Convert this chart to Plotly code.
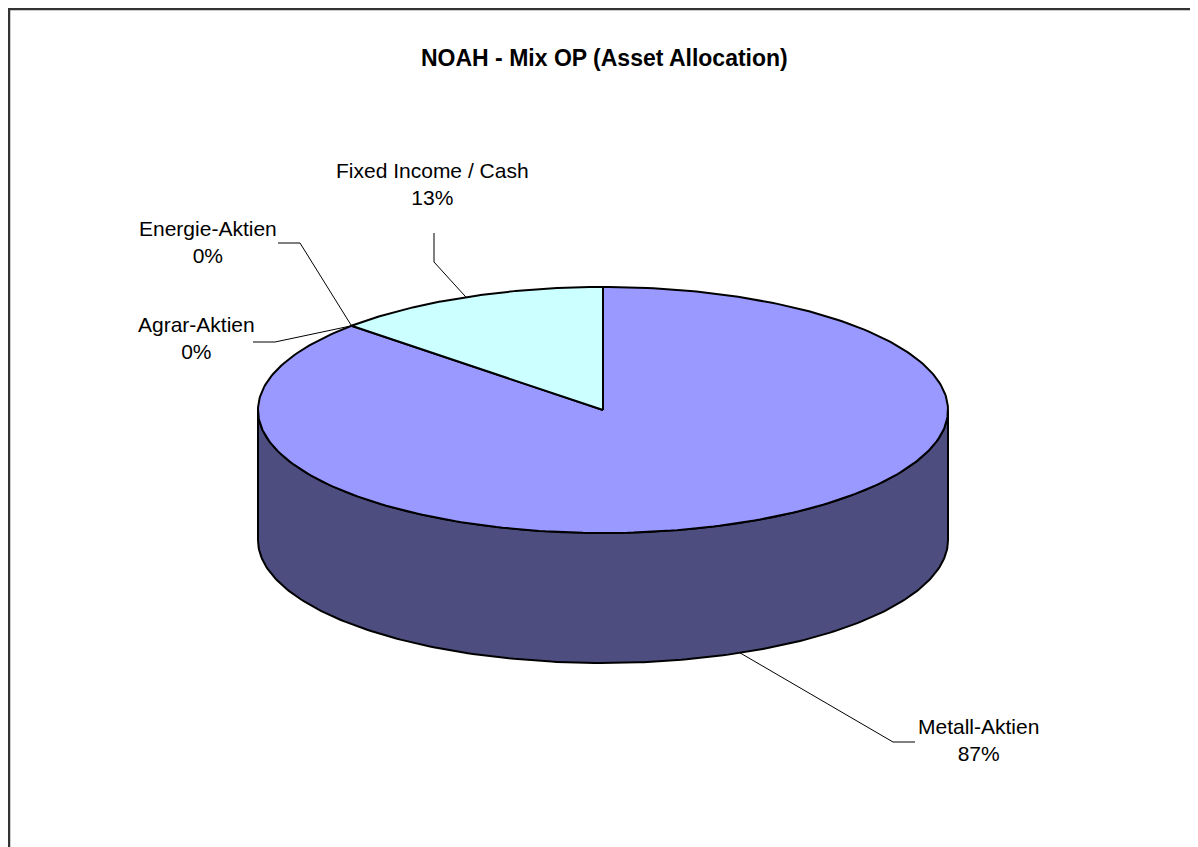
import numpy as np
import plotly.graph_objects as go

# ---- data ----
categories = ["Metall-Aktien", "Agrar-Aktien", "Energie-Aktien", "Fixed Income / Cash"]
values = [87, 0, 0, 13]
title = "NOAH - Mix OP (Asset Allocation)"

# ---- styles / geometry ----
W, H = 1198, 847
OFF = 8                  # page body margin
CX, CY = 603, 410       # centre of top ellipse (px)
RA, RB = 345, 123       # radii
DEPTH = 130
top_colors = ["#9999FF", "#993366", "#FFFFCC", "#CCFFFF"]
side_colors = ["#4D4D80", "#4D1A33", "#808066", "#668080"]
FONT = "Liberation Sans Narrow, Arial Narrow, Liberation Sans, Arial, sans-serif"

label_pos = {  # label centre (px) and leader polyline elbow (px)
    "Metall-Aktien": dict(x=978, y=740, elbow=(893, 742), tail=(915, 742)),
    "Agrar-Aktien": dict(x=196, y=338, elbow=(275, 342), tail=(253, 342)),
    "Energie-Aktien": dict(x=208, y=242, elbow=(300, 243), tail=(278, 243)),
    "Fixed Income / Cash": dict(x=432, y=184, elbow=(434, 262), tail=(434, 233)),
}

total = float(sum(values))
fig = go.Figure()


def pt(phi_deg, dy=0.0):
    p = np.radians(phi_deg)
    return CX + RA * np.cos(p), CY + RB * np.sin(p) + dy


starts, ends = [], []
a = -90.0
for v in values:
    starts.append(a)
    a += 360.0 * v / total
    ends.append(a)

# side walls (front half only)
for i, v in enumerate(values):
    if v <= 0:
        continue
    s, e = starts[i], ends[i]
    for k in (-360, 0, 360):
        lo, hi = max(s, 0 + k), min(e, 180 + k)
        if hi > lo:
            ph = np.linspace(lo, hi, 200)
            xs_t, ys_t = pt(ph)
            xs_b, ys_b = pt(ph[::-1], DEPTH)
            xs = np.concatenate([xs_t, xs_b, xs_t[:1]])
            ys = np.concatenate([ys_t, ys_b, ys_t[:1]])
            fig.add_trace(go.Scatter(x=xs, y=ys, mode="lines", fill="toself",
                                     fillcolor=side_colors[i],
                                     line=dict(color="black", width=2),
                                     hoverinfo="skip", showlegend=False))

# top faces
for i, v in enumerate(values):
    if v <= 0:
        continue
    ph = np.linspace(starts[i], ends[i], 300)
    xs, ys = pt(ph)
    xs = np.concatenate([[CX], xs, [CX]])
    ys = np.concatenate([[CY], ys, [CY]])
    fig.add_trace(go.Scatter(x=xs, y=ys, mode="lines", fill="toself",
                             fillcolor=top_colors[i],
                             line=dict(color="black", width=2),
                             hoverinfo="skip", showlegend=False))

# labels + leader lines
for i, (c, v) in enumerate(zip(categories, values)):
    mid = (starts[i] + ends[i]) / 2.0
    mx, my = pt(mid)
    if 0 < (mid % 360) < 180:
        my += DEPTH
    lp = label_pos[c]
    fig.add_trace(go.Scatter(x=[lp["tail"][0], lp["elbow"][0], mx],
                             y=[lp["tail"][1], lp["elbow"][1], my],
                             mode="lines", line=dict(color="black", width=1),
                             hoverinfo="skip", showlegend=False))
    fig.add_annotation(x=lp["x"], y=lp["y"], xref="x", yref="y",
                       text=f"{c}<br>{v / total:.0%}", showarrow=False,
                       font=dict(family=FONT, size=21, color="black"),
                       align="center")

fig.add_annotation(x=604, y=58, xref="x", yref="y", text=f"<b>{title}</b>",
                   showarrow=False, font=dict(family=FONT, size=23, color="black"))

fig.add_shape(type="rect", xref="x", yref="y", x0=9, y0=9, x1=1230, y1=880,
              line=dict(color="#333333", width=2.5), fillcolor="rgba(0,0,0,0)")

fig.update_xaxes(range=[OFF, W + OFF], visible=False, fixedrange=True)
fig.update_yaxes(range=[H + OFF, OFF], visible=False, fixedrange=True)
fig.update_layout(width=W, height=H, margin=dict(l=0, r=0, t=0, b=0),
                  paper_bgcolor="white", plot_bgcolor="white")
fig.write_html("out.html")
